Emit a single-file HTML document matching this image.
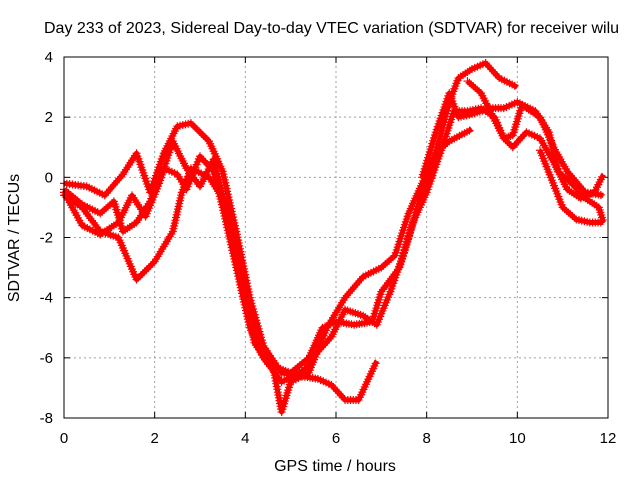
<!DOCTYPE html>
<html><head><meta charset="utf-8"><style>
body{margin:0;background:#fff;}
svg{display:block;font-family:"Liberation Sans",sans-serif;}
</style></head><body>
<svg id="chart" width="640" height="480">
<text x="44" y="33" font-size="16">Day 233 of 2023, Sidereal Day-to-day VTEC variation (SDTVAR) for receiver wilu</text>
<text x="335" y="471" font-size="16" text-anchor="middle">GPS time / hours</text>
<text transform="translate(19,238) rotate(-90)" font-size="16" text-anchor="middle">SDTVAR / TECUs</text>
<g id="grid"></g>
<g id="series"></g>
<rect x="64" y="57" width="544" height="361" fill="none" stroke="#000" stroke-width="1"/>
</svg>
<script>
const xTicks=[0,2,4,6,8,10,12];
const yTicks=[4,2,0,-2,-4,-6,-8];
const s1h=[0,0.4,0.8,1.2,1.6,2.0,2.4,2.6,2.8,3.2,3.5,3.8,4.0,4.3,4.6,4.8,5.0,5.4,5.8,6.2,6.6,7.0,7.3,7.6,7.9,8.2,8.5,9.0];
const s1v=[-0.6,-1.0,-1.8,-2.0,-3.4,-2.8,-1.8,-0.5,0.3,0.0,-0.7,-2.5,-4.0,-5.5,-6.2,-7.8,-6.8,-6.5,-5.0,-4.0,-3.3,-3.0,-2.6,-1.2,-0.2,0.8,1.2,1.6];
const s2h=[0,0.5,0.9,1.3,1.6,1.9,2.2,2.5,2.8,3.2,3.5,3.8,4.1,4.4,4.8,5.2,5.6,5.9,6.2,6.5,6.9];
const s2v=[-0.2,-0.3,-0.6,0.1,0.8,-0.5,0.8,1.7,1.8,1.2,0.2,-1.8,-4.0,-5.6,-6.5,-6.6,-6.7,-6.9,-7.4,-7.4,-6.1];
const s3h=[0,0.4,0.8,1.1,1.3,1.6,1.9,2.2,2.5,2.7,3.0,3.3,3.5,3.8,4.1,4.4,4.8,5.3,5.6,5.9,6.2,6.6,6.9,7.2,7.5,7.9,8.2,8.5,8.7,9.0,9.3,9.6,10.0];
const s3v=[-0.4,-0.9,-1.2,-0.8,-1.8,-1.5,-0.8,0.3,0.1,-0.4,0.7,0.2,-1.0,-3.0,-5.0,-6.0,-6.8,-6.4,-5.8,-5.3,-4.4,-4.6,-4.9,-3.8,-2.5,-0.5,0.8,2.5,3.3,3.6,3.8,3.3,3.0];
const s4h=[0,0.4,0.8,1.2,1.5,1.8,2.1,2.4,2.7,3.0,3.3,3.6,3.9,4.2,4.5,5.0,5.4,5.7,6.0,6.4,6.8,7.0,7.4,7.7,8.0,8.3,8.6,8.9,9.2,9.5,9.7,9.9,10.1,10.5,10.8,11.1,11.5,11.9];
const s4v=[-0.5,-1.6,-1.9,-1.5,-0.6,-1.3,-0.2,1.2,0.3,-0.3,0.6,-1.2,-3.0,-5.5,-6.2,-6.5,-6.0,-5.0,-4.8,-4.9,-4.8,-3.8,-3.0,-1.5,-0.5,0.8,2.2,2.2,2.3,2.0,1.3,1.4,2.4,2.0,1.0,0.2,-0.5,-0.6];
const s5h=[7.9,8.2,8.5,8.7,9.0,9.4,9.7,10.0,10.4,10.7,10.9,11.2,11.5,11.8,11.9];
const s5v=[0.0,1.5,2.8,2.0,2.1,2.3,2.3,2.5,2.2,1.5,0.2,-0.2,-0.7,-1.0,-1.5];
const s6h=[8.9,9.2,9.4,9.7,9.9,10.2,10.5,10.8,11.1,11.4,11.7,11.9];
const s6v=[3.2,2.8,2.2,1.3,1.0,1.5,1.3,0.5,-0.4,-0.7,-0.5,0.1];
const s7h=[10.5,11.0,11.3,11.6,11.9];
const s7v=[0.9,-1.0,-1.4,-1.5,-1.5];

const X0=64,X1=608,Y0=418,Y1=57;
const xs=h=>X0+(h-0)/(12-0)*(X1-X0);
const ys=v=>Y0-(v+8)/(4+8)*(Y0-Y1);
const NS="http://www.w3.org/2000/svg";
const svg=document.getElementById('chart');
const grid=document.getElementById('grid');
function mk(tag,attrs,parent){const e=document.createElementNS(NS,tag);for(const k in attrs)e.setAttribute(k,attrs[k]);parent.appendChild(e);return e;}
xTicks.forEach((t,i)=>{
  const x=xs(t);
  if(i>0&&i<xTicks.length-1){const g=mk('line',{x1:x,y1:Y0,x2:x,y2:Y1,stroke:'#a0a0a0','stroke-dasharray':'2,3'},grid);
  
  }
  const a=mk('line',{x1:x,y1:Y0,x2:x,y2:Y0-6,stroke:'#000'},grid);
  
  
  const b=mk('line',{x1:x,y1:Y1,x2:x,y2:Y1+6,stroke:'#000'},grid);
  
  
  const l=mk('text',{x:x,y:443,'font-size':15,'text-anchor':'middle'},svg);
  l.textContent=t;
  
  
});
yTicks.forEach((t,i)=>{
  const y=ys(t);
  if(i>0&&i<yTicks.length-1){const g=mk('line',{x1:X0,y1:y,x2:X1,y2:y,stroke:'#a0a0a0','stroke-dasharray':'2,3'},grid);
  
  }
  const a=mk('line',{x1:X0,y1:y,x2:X0+6,y2:y,stroke:'#000'},grid);
  
  
  const b=mk('line',{x1:X1,y1:y,x2:X1-6,y2:y,stroke:'#000'},grid);
  
  
  const l=mk('text',{x:53,y:y+5,'font-size':15,'text-anchor':'end'},svg);
  l.textContent=t;
  
  
});
const ser=document.getElementById('series');
const all=[[s1h,s1v],[s2h,s2v],[s3h,s3v],[s4h,s4v],[s5h,s5v],[s6h,s6v],[s7h,s7v]];
all.forEach((s,si)=>{
  const H=s[0],V=s[1];
  const pts=H.map((h,i)=>xs(h)+','+ys(V[i])).join(' ');
  const pl=mk('polyline',{points:pts,fill:'none',stroke:'#ff0000','stroke-width':5,'stroke-linejoin':'round'},ser);
  
  
  let d='';
  for(let i=0;i<H.length-1;i++){
    const ax=xs(H[i]),ay=ys(V[i]),bx=xs(H[i+1]),by=ys(V[i+1]);
    const n=Math.max(1,Math.ceil(Math.hypot(bx-ax,by-ay)/3));
    for(let k=0;k<n;k++){const x=ax+(bx-ax)*k/n,y=ay+(by-ay)*k/n;d+=`M${x-4},${y}h8M${x},${y-4}v8`;}
  }
  const p=mk('path',{d:d,stroke:'#ff0000','stroke-width':1.2,fill:'none'},ser);
  
  
});
</script>
</body></html>
